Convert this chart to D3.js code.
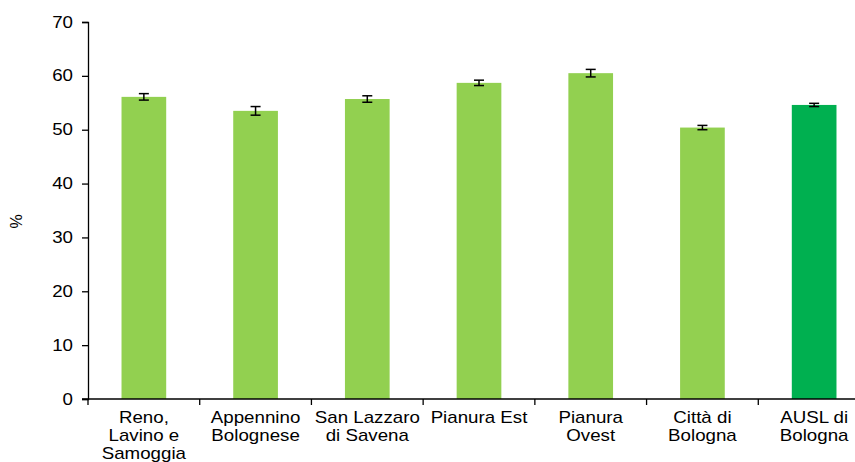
<!DOCTYPE html>
<html lang="it">
<head>
<meta charset="utf-8" />
<title>Percentuale per distretto</title>
<script src="https://cdn.jsdelivr.net/npm/d3@7/dist/d3.min.js"></script>
<style>
  body { margin: 0; background: #fff; }
  text { font-family: "Liberation Sans", Arial, sans-serif; fill: #000; }
</style>
</head>
<body>
<svg width="855" height="462"></svg>
<script>
// data
var categories = [
  ['Reno,', 'Lavino e', 'Samoggia'],
  ['Appennino', 'Bolognese'],
  ['San Lazzaro', 'di Savena'],
  ['Pianura Est'],
  ['Pianura', 'Ovest'],
  ['Città di', 'Bologna'],
  ['AUSL di', 'Bologna']
];
var values = [56.1, 53.5, 55.7, 58.7, 60.5, 50.4, 54.6];
var errors = [0.6, 0.8, 0.6, 0.5, 0.7, 0.4, 0.3];
var yTicks = [0, 10, 20, 30, 40, 50, 60, 70];

var svg = d3.select('svg');
var mLeft = 88, mRight = 870, mTop = 22, mBottom = 399;
var sx = 1.17; // the source text is a little wider than Liberation Sans

var keys = categories.map(function(c) { return c.join(' '); });

var x = d3.scaleBand()
  .domain(keys)
  .range([mLeft, mRight])
  .paddingInner(0.6)
  .paddingOuter(0.3);

var y = d3.scaleLinear().domain([0, 70]).range([mBottom, mTop]);

// bars
svg.selectAll('rect.bar')
  .data(values)
  .enter().append('rect')
  .attr('class', 'bar')
  .attr('x', function(d, i) { return x(keys[i]); })
  .attr('y', function(d) { return y(d); })
  .attr('width', x.bandwidth())
  .attr('height', function(d) { return y(0) - y(d); })
  .attr('fill', function(d, i) { return i === values.length - 1 ? '#00b050' : '#92d050'; });

// error bars
var eb = svg.selectAll('g.err')
  .data(values)
  .enter().append('g')
  .attr('class', 'err')
  .attr('stroke', '#000')
  .attr('stroke-width', 1.5);

function cx(i) { return x(keys[i]) + x.bandwidth() / 2; }

eb.append('line')
  .attr('x1', function(d, i) { return cx(i); })
  .attr('x2', function(d, i) { return cx(i); })
  .attr('y1', function(d, i) { return y(d + errors[i]); })
  .attr('y2', function(d, i) { return y(d - errors[i]); });

[1, -1].forEach(function(s) {
  eb.append('line')
    .attr('x1', function(d, i) { return cx(i) - 5; })
    .attr('x2', function(d, i) { return cx(i) + 5; })
    .attr('y1', function(d, i) { return y(d + s * errors[i]); })
    .attr('y2', function(d, i) { return y(d + s * errors[i]); });
});

// y axis
var yAxis = svg.append('g')
  .attr('transform', 'translate(' + mLeft + ',0)')
  .call(d3.axisLeft(y).tickValues(yTicks).tickSize(6).tickPadding(10));
yAxis.select('.domain').attr('stroke', '#000').attr('stroke-width', 1.3);
yAxis.selectAll('.tick line').attr('stroke', '#000').attr('stroke-width', 1.3);
yAxis.selectAll('.tick text')
  .style('font-size', '16px')
  .attr('fill', '#000')
  .attr('x', null)
  .attr('text-anchor', 'end')
  .attr('transform', 'translate(-15,0) scale(' + sx + ',1)');

// x axis: line with ticks at category boundaries
var xAxisG = svg.append('g');
xAxisG.append('line')
  .attr('x1', mLeft - 6).attr('x2', mRight)
  .attr('y1', mBottom).attr('y2', mBottom)
  .attr('stroke', '#000').attr('stroke-width', 1.3);

var step = x.step();
var bounds = keys.map(function(k) { return x(k) - (step - x.bandwidth()) / 2; });
xAxisG.selectAll('line.tk')
  .data(bounds)
  .enter().append('line')
  .attr('class', 'tk')
  .attr('x1', function(d) { return d; })
  .attr('x2', function(d) { return d; })
  .attr('y1', mBottom).attr('y2', mBottom + 6)
  .attr('stroke', '#000').attr('stroke-width', 1.3);

// category labels
var lab = svg.selectAll('text.cat')
  .data(categories)
  .enter().append('text')
  .attr('class', 'cat')
  .attr('text-anchor', 'middle')
  .style('font-size', '16px')
  .attr('transform', function(d, i) {
    return 'translate(' + cx(i) + ',423) scale(' + sx + ',1)';
  });
lab.selectAll('tspan')
  .data(function(d) { return d; })
  .enter().append('tspan')
  .attr('x', 0)
  .attr('y', function(d, j) { return j * 18; })
  .text(function(d) { return d; });

// y label
svg.append('text')
  .attr('transform', 'translate(22,' + y(33) + ') rotate(-90)')
  .attr('text-anchor', 'middle')
  .style('font-size', '16px')
  .text('%');
</script>
</body>
</html>
